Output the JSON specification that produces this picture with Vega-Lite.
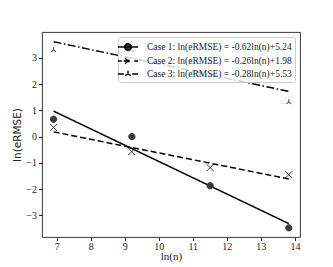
{
  "$schema": "https://vega.github.io/schema/vega-lite/v6.json",
  "width": 258,
  "height": 205,
  "autosize": {"type": "none"},
  "padding": {"left": 42, "top": 32, "right": 33, "bottom": 30},
  "background": "white",
  "config": {
    "view": {"stroke": "#222", "strokeWidth": 0.9},
    "axis": {
      "labelFont": "Liberation Serif",
      "labelFontSize": 10,
      "labelColor": "#222",
      "labelOverlap": false,
      "labelSeparation": 0,
      "titleFont": "Liberation Serif",
      "titleFontSize": 11,
      "titleFontWeight": "normal",
      "titleColor": "#222",
      "tickColor": "#222",
      "tickSize": 3.5,
      "domain": false,
      "grid": false
    }
  },
  "datasets": {
    "pts": [
      {"x": 6.91, "y": 0.66, "case": "Case 1: ln(eRMSE) = -0.62ln(n)+5.24"},
      {"x": 9.21, "y": 0.0, "case": "Case 1: ln(eRMSE) = -0.62ln(n)+5.24"},
      {"x": 11.51, "y": -1.87, "case": "Case 1: ln(eRMSE) = -0.62ln(n)+5.24"},
      {"x": 13.82, "y": -3.47, "case": "Case 1: ln(eRMSE) = -0.62ln(n)+5.24"},
      {"x": 6.91, "y": 0.34, "case": "Case 2: ln(eRMSE) = -0.26ln(n)+1.98"},
      {"x": 9.21, "y": -0.57, "case": "Case 2: ln(eRMSE) = -0.26ln(n)+1.98"},
      {"x": 11.51, "y": -1.18, "case": "Case 2: ln(eRMSE) = -0.26ln(n)+1.98"},
      {"x": 13.82, "y": -1.45, "case": "Case 2: ln(eRMSE) = -0.26ln(n)+1.98"},
      {"x": 6.91, "y": 3.29, "case": "Case 3: ln(eRMSE) = -0.28ln(n)+5.53"},
      {"x": 9.21, "y": 3.29, "case": "Case 3: ln(eRMSE) = -0.28ln(n)+5.53"},
      {"x": 11.51, "y": 2.85, "case": "Case 3: ln(eRMSE) = -0.28ln(n)+5.53"},
      {"x": 13.82, "y": 1.31, "case": "Case 3: ln(eRMSE) = -0.28ln(n)+5.53"}
    ],
    "fits": [
      {"x": 6.91, "y": 0.97, "case": "Case 1: ln(eRMSE) = -0.62ln(n)+5.24"},
      {"x": 13.82, "y": -3.31, "case": "Case 1: ln(eRMSE) = -0.62ln(n)+5.24"},
      {"x": 6.91, "y": 0.18, "case": "Case 2: ln(eRMSE) = -0.26ln(n)+1.98"},
      {"x": 13.82, "y": -1.61, "case": "Case 2: ln(eRMSE) = -0.26ln(n)+1.98"},
      {"x": 6.91, "y": 3.61, "case": "Case 3: ln(eRMSE) = -0.28ln(n)+5.53"},
      {"x": 13.82, "y": 1.72, "case": "Case 3: ln(eRMSE) = -0.28ln(n)+5.53"}
    ]
  },
  "encoding": {
    "x": {"field": "x", "type": "quantitative",
          "scale": {"domain": [6.57, 14.15], "nice": false, "zero": false},
          "axis": {"values": [7, 8, 9, 10, 11, 12, 13, 14], "tickCount": 8, "format": "d", "labelOverlap": false, "title": "ln(n)", "titlePadding": -1, "labelPadding": 1}},
    "y": {"field": "y", "type": "quantitative",
          "scale": {"domain": [-3.82, 3.98], "nice": false, "zero": false},
          "axis": {"values": [-3, -2, -1, 0, 1, 2, 3], "tickCount": 7, "format": "d", "labelOverlap": false, "title": "ln(eRMSE)", "titlePadding": 3, "titleFont": "DejaVu Sans", "titleFontSize": 10.5}}
  },
  "layer": [
    {
      "data": {"name": "fits"},
      "mark": {"type": "line", "color": "black", "strokeWidth": 1.5},
      "encoding": {
        "strokeDash": {
          "field": "case", "type": "nominal",
          "scale": {"range": [[1, 0], [6, 3], [8, 2.5, 1.5, 2.5]]},
          "legend": {
            "title": null,
            "orient": "top-right",
            "offset": 5,
            "padding": 3,
            "fillColor": "rgba(255,255,255,0.8)",
            "strokeColor": "#cccccc",
            "cornerRadius": 2,
            "symbolSize": 144,
            "symbolStrokeWidth": 1.4,
            "symbolStrokeColor": "black",
            "labelFont": "Liberation Serif",
            "labelFontSize": 9.5,
            "labelColor": "#222",
            "labelOffset": 12,
            "labelLimit": 300,
            "rowPadding": 0,
            "encode": {
              "symbols": {
                "update": {
                  "shape": {"signal": "indexof(datum.value,'Case 1')===0 ? 'M-1.67,0H1.67M0.55,0A0.55,0.55,0,1,1,-0.55,0A0.55,0.55,0,1,1,0.55,0Z' : indexof(datum.value,'Case 2')===0 ? 'M-1.67,0H-1.05M-0.75,0H0.75M1.05,0H1.67M-0.5,-0.45L0.5,0.45M-0.5,0.45L0.5,-0.45' : 'M-1.67,0H-0.7M0.7,0H1.67M0,0V-0.55M0,0L-0.48,0.28M0,0L0.48,0.28'"},
                  "fill": {"value": "#333"},
                  "stroke": {"value": "black"},
                  "strokeDash": {"value": [1, 0]}
                }
              }
            }
          }
        }
      }
    },
    {
      "data": {"name": "pts"},
      "mark": {"type": "point", "size": 40, "strokeWidth": 1, "opacity": 1},
      "encoding": {
        "shape": {
          "field": "case", "type": "nominal",
          "scale": {"range": [
            "M1,0A1,1,0,1,1,-1,0A1,1,0,1,1,1,0Z",
            "M-1.1,-1.1L1.1,1.1M-1.1,1.1L1.1,-1.1",
            "M0,0V-0.9M0,0L-0.8,0.5M0,0L0.8,0.5"
          ]},
          "legend": null
        },
        "fill": {
          "field": "case", "type": "nominal",
          "scale": {"range": ["#3a3a3a", "transparent", "transparent"]},
          "legend": null
        },
        "stroke": {
          "field": "case", "type": "nominal",
          "scale": {"range": ["#3a3a3a", "#333333", "#333333"]},
          "legend": null
        }
      }
    }
  ]
}
